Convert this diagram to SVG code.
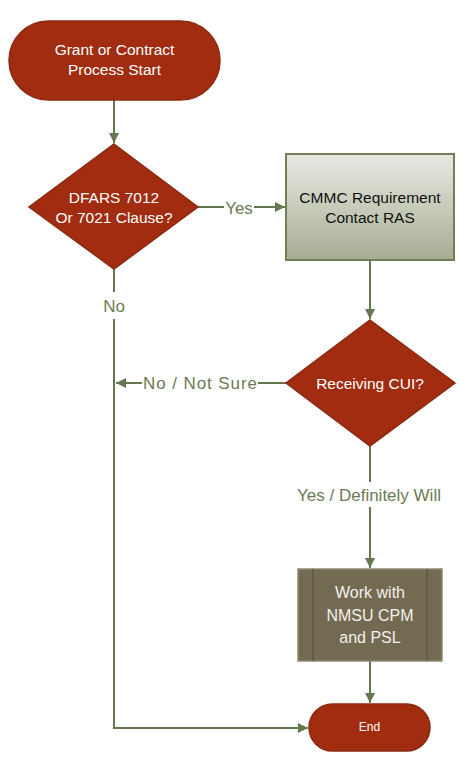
<svg xmlns="http://www.w3.org/2000/svg" width="468" height="776" viewBox="0 0 468 776">
<defs>
<linearGradient id="gbox" x1="0" y1="0" x2="0" y2="1">
<stop offset="0" stop-color="#e8e9e3"/>
<stop offset="1" stop-color="#a6ad92"/>
</linearGradient>
<marker id="arr" viewBox="0 0 10 10" refX="10" refY="5" markerWidth="10" markerHeight="10" markerUnits="userSpaceOnUse" orient="auto">
<path d="M0,0 L10,5 L0,10 z" fill="#667650"/>
</marker>
<style>
.red{fill:#a12c0f;stroke:#8c2a12;stroke-width:1.5}
.wt{fill:#ffffff;font-family:"Liberation Sans",Arial,sans-serif;font-size:15.5px;text-anchor:middle;dominant-baseline:central}
.bt{fill:#111111;font-family:"Liberation Sans",Arial,sans-serif;font-size:15.5px;text-anchor:middle;dominant-baseline:central}
.ln{fill:none;stroke:#667650;stroke-width:2}
.lb{fill:#6b7b52;font-family:"Liberation Sans",Arial,sans-serif;font-size:17px;text-anchor:middle;dominant-baseline:central}
</style>
</defs>
<rect width="468" height="776" fill="#ffffff"/>
<g id="connectors">
<path class="ln" d="M114,100 V143" marker-end="url(#arr)"/>
<path class="ln" d="M198,207 H224 M254,207 H285" marker-end="url(#arr)"/>
<text class="lb" x="239" y="208">Yes</text>
<path class="ln" d="M370,260 V319" marker-end="url(#arr)"/>
<path class="ln" d="M286,383 H258 M142,383 H116" marker-end="url(#arr)"/>
<text class="lb" x="200" y="383" textLength="114" lengthAdjust="spacing">No / Not Sure</text>
<path class="ln" d="M114,268 V292"/>
<text class="lb" x="114" y="306">No</text>
<path class="ln" d="M114,319 V728 H308" marker-end="url(#arr)"/>
<path class="ln" d="M370,446 V482 M370,507 V568" marker-end="url(#arr)"/>
<text class="lb" x="369" y="495">Yes / Definitely Will</text>
<path class="ln" d="M370,661 V703" marker-end="url(#arr)"/>
</g>
<g id="start">
<rect class="red" x="9" y="21" width="211" height="79" rx="39.5"/>
<text class="wt" x="114.5" y="49">Grant or Contract</text>
<text class="wt" x="114.5" y="69">Process Start</text>
</g>
<g id="dfars">
<polygon class="red" points="114,144 198,207 114,269 29,207"/>
<text class="wt" x="114" y="197">DFARS 7012</text>
<text class="wt" x="114" y="217">Or 7021 Clause?</text>
</g>
<g id="cmmc">
<rect x="286" y="154" width="168" height="106" fill="url(#gbox)" stroke="#6f7f56" stroke-width="2"/>
<text class="bt" x="370" y="197">CMMC Requirement</text>
<text class="bt" x="370" y="217">Contact RAS</text>
</g>
<g id="cui">
<polygon class="red" points="370,320 455,383 370,446 286,383"/>
<text class="wt" x="370" y="383">Receiving CUI?</text>
</g>
<g id="work">
<rect x="298" y="569" width="144" height="92" fill="#736a52" stroke="#8e8a75" stroke-width="1.5"/>
<line x1="313" y1="569" x2="313" y2="661" stroke="#5f5844" stroke-width="1.5"/>
<line x1="427" y1="569" x2="427" y2="661" stroke="#5f5844" stroke-width="1.5"/>
<text class="wt" x="370" y="592" style="font-size:16px;fill:#f2f0ea">Work with</text>
<text class="wt" x="370" y="615" style="font-size:16px;fill:#f2f0ea">NMSU CPM</text>
<text class="wt" x="370" y="637" style="font-size:16px;fill:#f2f0ea">and PSL</text>
</g>
<g id="end">
<rect class="red" x="309" y="704" width="121" height="47" rx="23.5"/>
<text class="wt" x="369.5" y="727" style="font-size:12px">End</text>
</g>
</svg>
